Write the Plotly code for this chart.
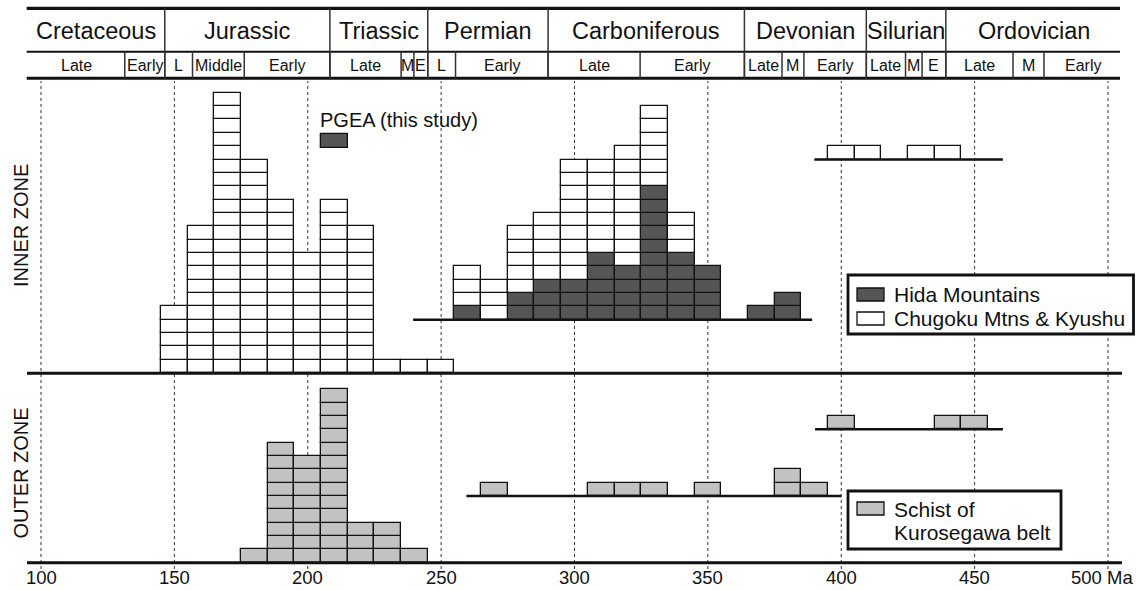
import plotly.graph_objects as go

# ---------------- DATA ----------------
# Inner zone, Mesozoic cluster (Chugoku Mtns & Kyushu); bin centres in Ma, 10 Ma bins
inner_meso_ages = [150, 160, 170, 180, 190, 200, 210, 220, 230, 240, 250]
inner_meso_chugoku = [5, 11, 21, 16, 13, 9, 13, 11, 1, 1, 1]

# Inner zone, Palaeozoic cluster
inner_paleo_ages = [260, 270, 280, 290, 300, 310, 320, 330, 340, 350, 360, 370, 380]
inner_paleo_hida = [1, 0, 2, 3, 3, 5, 4, 10, 5, 4, 0, 1, 2]
inner_paleo_chugoku = [3, 3, 5, 5, 9, 7, 9, 6, 3, 0, 0, 0, 0]

# Inner zone, old cluster
inner_old_ages = [400, 410, 420, 430, 440]
inner_old_chugoku = [1, 1, 0, 1, 1]

# Outer zone (Schist of Kurosegawa belt)
outer_meso_ages = [180, 190, 200, 210, 220, 230, 240]
outer_meso_schist = [1, 9, 8, 13, 3, 3, 1]
outer_paleo_ages = [270, 280, 290, 300, 310, 320, 330, 340, 350, 360, 370, 380, 390]
outer_paleo_schist = [1, 0, 0, 0, 1, 1, 1, 0, 1, 0, 0, 2, 1]
outer_old_ages = [400, 410, 420, 430, 440, 450]
outer_old_schist = [1, 0, 0, 0, 1, 1]

# PGEA (this study)
pgea_ages = [210]
pgea_counts = [1]

# Geological time scale header
periods = ["Cretaceous", "Jurassic", "Triassic", "Permian", "Carboniferous",
           "Devonian", "Silurian", "Ordovician"]
period_bounds = [95.0, 146.4, 208.3, 245.0, 290.1, 363.7, 409.4, 439.2, 505.3]
epochs = ["Late", "Early", "L", "Middle", "Early", "Late", "M", "E", "L", "Early",
          "Late", "Early", "Late", "M", "Early", "Late", "M", "E", "Late", "M", "Early"]
epoch_bounds = [95.0, 131.4, 146.4, 156.8, 176.2, 208.3, 235.0, 239.8, 245.0, 255.4,
                290.1, 324.6, 363.7, 377.8, 386.0, 409.4, 424.1, 430.3, 439.2, 464.4,
                476.0, 505.3]

tick_values = [100, 150, 200, 250, 300, 350, 400, 450, 500]
tick_labels = ["100", "150", "200", "250", "300", "350", "400", "450", "500 Ma"]

# ---------------- LAYOUT CONSTANTS ----------------
W, H = 1136, 590
X0, X1 = 84.63, 510.5
PX_PER_MA = W / (X1 - X0)
BOX_PX = 13.35
BASE_PX = 562.7
Y0 = -(H - BASE_PX) / BOX_PX
Y1 = BASE_PX / BOX_PX
BIN_W = 10

# group baselines (in box units)
INNER_BASE = 14.2
INNER_PALEO_BASE = 18.2
INNER_OLD_BASE = 30.2
OUTER_BASE = 0.0
OUTER_PALEO_BASE = 5.0
OUTER_OLD_BASE = 10.0
PGEA_BASE = 31.1

DARK = "#555555"
LIGHT = "#c2c2c2"
WHITE = "#ffffff"
FONT = "Liberation Sans, Arial, Helvetica, sans-serif"


def pxx(px):
    return X0 + px / PX_PER_MA


def pyp(py):
    return 1 - py / H


def box_stack(ages, counts, base, start=None):
    xs, bases = [], []
    if start is None:
        start = [0] * len(ages)
    for a, c, s in zip(ages, counts, start):
        for k in range(c):
            xs.append(a)
            bases.append(base + s + k)
    return xs, bases


fig = go.Figure()


def add_boxes(ages, counts, base, color, start=None):
    xs, bases = box_stack(ages, counts, base, start)
    fig.add_trace(go.Bar(
        x=xs, y=[1] * len(xs), base=bases, width=BIN_W,
        marker=dict(color=color, line=dict(color="#111111", width=1.3)),
        showlegend=False, hoverinfo="skip"))


add_boxes(inner_meso_ages, inner_meso_chugoku, INNER_BASE, WHITE)
add_boxes(inner_paleo_ages, inner_paleo_hida, INNER_PALEO_BASE, DARK)
add_boxes(inner_paleo_ages, inner_paleo_chugoku, INNER_PALEO_BASE, WHITE, start=inner_paleo_hida)
add_boxes(inner_old_ages, inner_old_chugoku, INNER_OLD_BASE, WHITE)
add_boxes(outer_meso_ages, outer_meso_schist, OUTER_BASE, LIGHT)
add_boxes(outer_paleo_ages, outer_paleo_schist, OUTER_PALEO_BASE, LIGHT)
add_boxes(outer_old_ages, outer_old_schist, OUTER_OLD_BASE, LIGHT)
add_boxes(pgea_ages, pgea_counts, PGEA_BASE, DARK)

shapes = []
annotations = []

# dotted grid lines
for t in tick_values:
    shapes.append(dict(type="line", xref="x", yref="paper", x0=t, x1=t,
                       y0=pyp(569), y1=pyp(81), layer="below",
                       line=dict(color="#333333", width=1, dash="dot")))

# main horizontal lines
left_ma, right_ma = pxx(27), pxx(1122)
for yv, wdt in [(INNER_BASE, 3), (OUTER_BASE, 3)]:
    shapes.append(dict(type="line", xref="x", yref="y", x0=left_ma, x1=right_ma,
                       y0=yv, y1=yv, line=dict(color="#111111", width=wdt)))

# group base lines
for (a, b, yv) in [(239.5, 389.1, INNER_PALEO_BASE), (389.9, 460.6, INNER_OLD_BASE),
                   (259.5, 400.0, OUTER_PALEO_BASE), (390.2, 460.6, OUTER_OLD_BASE)]:
    shapes.append(dict(type="line", xref="x", yref="y", x0=a, x1=b, y0=yv, y1=yv,
                       line=dict(color="#111111", width=2.5)))

# header
HT, HM, HB = 8.3, 51.7, 78.3
hl, hr = pxx(26.7), pxx(1120)
for py, wdt in [(HT, 3.2), (HM, 2), (HB, 3)]:
    shapes.append(dict(type="line", xref="x", yref="paper", x0=hl, x1=hr,
                       y0=pyp(py), y1=pyp(py), line=dict(color="#111111", width=wdt)))
for b in period_bounds[1:-1]:
    shapes.append(dict(type="line", xref="x", yref="paper", x0=b, x1=b,
                       y0=pyp(HB), y1=pyp(HT), line=dict(color="#333333", width=1.5)))
for b in epoch_bounds[1:-1]:
    shapes.append(dict(type="line", xref="x", yref="paper", x0=b, x1=b,
                       y0=pyp(HB), y1=pyp(HM), line=dict(color="#333333", width=1.5)))
for i, name in enumerate(periods):
    annotations.append(dict(x=(period_bounds[i] + period_bounds[i + 1]) / 2, y=pyp(31),
                            xref="x", yref="paper", text=name, showarrow=False,
                            xanchor="center", yanchor="middle",
                            font=dict(family=FONT, size=23.5, color="#111111")))
for i, name in enumerate(epochs):
    annotations.append(dict(x=(epoch_bounds[i] + epoch_bounds[i + 1]) / 2, y=pyp(65),
                            xref="x", yref="paper", text=name, showarrow=False,
                            xanchor="center", yanchor="middle",
                            font=dict(family=FONT, size=16, color="#111111")))

# tick labels
for t, lab in zip(tick_values, tick_labels):
    if lab.endswith("Ma"):
        annotations.append(dict(x=pxx(1135), y=pyp(577), xref="x", yref="paper", text=lab,
                                showarrow=False, xanchor="right", yanchor="middle",
                                font=dict(family=FONT, size=18.5, color="#111111")))
    else:
        annotations.append(dict(x=t, y=pyp(577), xref="x", yref="paper", text=lab,
                                showarrow=False, xanchor="center", yanchor="middle",
                                font=dict(family=FONT, size=18.5, color="#111111")))

# zone labels
for txt, py in [("INNER ZONE", 226), ("OUTER ZONE", 473.5)]:
    annotations.append(dict(x=pxx(21), y=pyp(py), xref="x", yref="paper", text=txt,
                            showarrow=False, textangle=-90, xanchor="center", yanchor="middle",
                            font=dict(family=FONT, size=20, color="#111111")))

# PGEA label
annotations.append(dict(x=pxx(318), y=pyp(120), xref="x", yref="paper",
                        text="PGEA (this study)", showarrow=False, xanchor="left",
                        yanchor="middle", font=dict(family=FONT, size=20, color="#111111")))

# legend boxes
for (x0p, x1p, y0p, y1p) in [(848, 1133.5, 275, 334), (848, 1061, 491, 549)]:
    shapes.append(dict(type="rect", xref="x", yref="paper", x0=pxx(x0p), x1=pxx(x1p),
                       y0=pyp(y1p), y1=pyp(y0p), fillcolor="white",
                       line=dict(color="#111111", width=2.8), layer="above"))
for (col, y0p, y1p) in [(DARK, 288, 301), (WHITE, 312, 325), (LIGHT, 502, 515)]:
    shapes.append(dict(type="rect", xref="x", yref="paper", x0=pxx(857), x1=pxx(884),
                       y0=pyp(y1p), y1=pyp(y0p), fillcolor=col,
                       line=dict(color="#111111", width=1.3), layer="above"))
for txt, py in [("Hida Mountains", 294), ("Chugoku Mtns & Kyushu", 318.5),
                ("Schist of", 509), ("Kurosegawa belt", 532)]:
    annotations.append(dict(x=pxx(892), y=pyp(py), xref="x", yref="paper", text=txt,
                            showarrow=False, xanchor="left", yanchor="middle",
                            font=dict(family=FONT, size=21, color="#111111")))

fig.update_layout(
    width=W, height=H, margin=dict(l=0, r=0, t=0, b=0),
    paper_bgcolor="white", plot_bgcolor="white",
    barmode="overlay", bargap=0,
    xaxis=dict(range=[X0, X1], visible=False, showgrid=False, zeroline=False),
    yaxis=dict(range=[Y0, Y1], visible=False, showgrid=False, zeroline=False),
    shapes=shapes, annotations=annotations, showlegend=False,
)

fig.write_html("out.html")
